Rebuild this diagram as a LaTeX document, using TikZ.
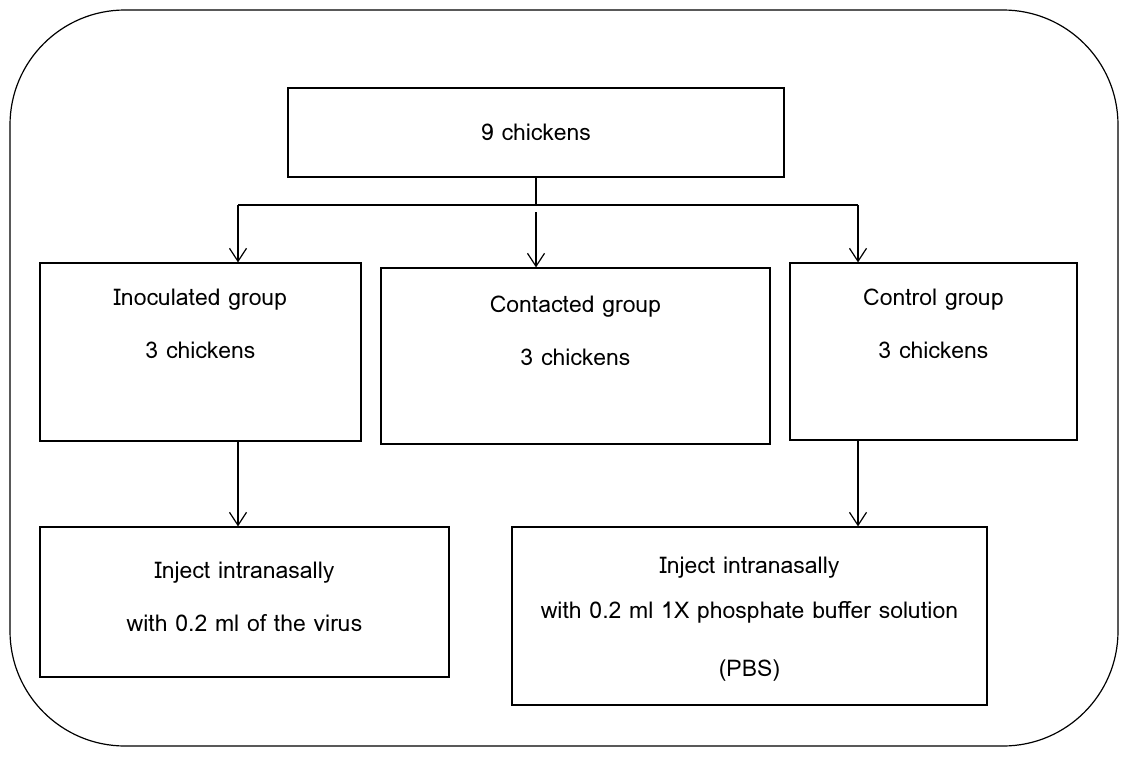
\documentclass[tikz,border=0pt]{standalone}
\usepackage{fontspec}
\setmainfont{Loma}
\usetikzlibrary{arrows.meta, positioning}

\tikzset{
	box/.style={draw, line width=1.2pt, inner sep=0pt},
	txt/.style={align=center, inner sep=0pt, font=\fontsize{23}{53}\selectfont},
	arr/.style={-{Straight Barb[length=13pt,width=17pt]}, line width=1.2pt}
}

\begin{document}
\begin{tikzpicture}[x=1pt, y=-1pt, line width=1.2pt]
\useasboundingbox (0,0) rectangle (1130,758);
\draw[rounded corners=115pt] (10,10) rectangle (1118,746);

% boxes
\node[box, txt, minimum width=496pt, minimum height=89pt] (all) at (536,132.5) {9 chickens};
\node[box, minimum width=321pt, minimum height=178pt] (inoc) at (200.5,352) {};
\node[box, minimum width=389pt, minimum height=176pt] (contact) at (575.5,356) {};
\node[box, minimum width=287pt, minimum height=177pt] (control) at (933.5,351.5) {};
\node[box, minimum width=409pt, minimum height=150pt] (virus) at (244.5,602) {};
\node[box, minimum width=475pt, minimum height=178pt] (pbs) at (749.5,616) {};

% texts
\node[txt, below=26pt of inoc.north] (inoctxt) {Inoculated group\\3 chickens};
\node[txt, below=28pt of contact.north] (contacttxt) {Contacted group\\3 chickens};
\node[txt, below=26pt of control.north] (controltxt) {Control group\\3 chickens};
\node[txt, below=35pt of virus.north] (virustxt) {Inject intranasally\\with 0.2 ml of the virus};
\node[txt, below=30pt of pbs.north] (pbstxt) {Inject intranasally\\[-8pt]with 0.2 ml 1X phosphate buffer solution\\[5pt](PBS)};

% connectors
\coordinate (split) at (536,205);
\coordinate (splitL) at (238,205);
\coordinate (splitR) at (858,205);
\draw (all.south) -- (split);
\draw (splitL) -- (splitR);
\path[arr]
(splitL) edge (splitL |- inoc.north)
(split) edge[shorten <=7pt] (split |- contact.north)
(splitR) edge (splitR |- control.north)
(splitL |- inoc.south) edge (splitL |- virus.north)
(splitR |- control.south) edge (splitR |- pbs.north)
;
\end{tikzpicture}
\end{document}
